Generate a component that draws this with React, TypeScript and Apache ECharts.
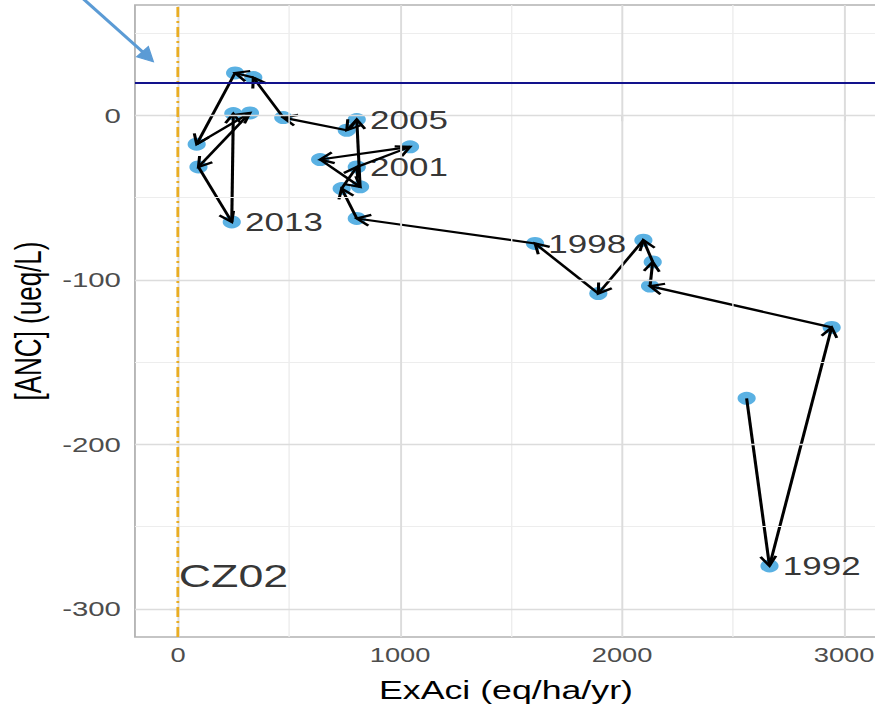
import React, { useEffect, useRef } from "react";
import * as echarts from "echarts";

// ---- data ----
const years = [
  1991, 1992, 1993, 1994, 1995, 1996, 1997, 1998, 1999, 2000, 2001, 2002,
  2003, 2004, 2005, 2006, 2007, 2008, 2009, 2010, 2011, 2012, 2013, 2014,
];
const exAci = [
  2561, 2664, 2944, 2126, 2138, 2096, 1893, 1608, 805, 737, 805, 1045, 640,
  820, 805, 760, 474, 339, 257, 84, 324, 92, 242, 249,
];
const anc = [
  -172, -273.8, -128.9, -103.8, -89.1, -75.9, -108.3, -77.9, -62.7, -44.5,
  -31.4, -19.2, -26.9, -43.5, -2.6, -9.1, -1.4, 22.9, 25.7, -17.6, 1.4, -31.4,
  -64.8, 1.0,
];
const labelledYears = [1992, 1998, 2001, 2005, 2013];
const xTicks = [0, 1000, 2000, 3000];
const xMinor = [500, 1500, 2500];
const yTicks = [-300, -200, -100, 0];
const yMinor = [-250, -150, -50, 50];
const ancThreshold = 20;
const exAciReference = 0;
const siteName = "CZ02";
const siteLabelX = 0;
const siteLabelY = -280;
const xTitle = "ExAci (eq/ha/yr)";
const yTitle = "[ANC] (ueq/L)";

const FONT = "'Liberation Sans', Arial, Helvetica, sans-serif";
const STRETCH = 1.4;
const BASE_W = 625;
const BASE_H = 708;

export default function App() {
  const ref = useRef<HTMLDivElement>(null);

  useEffect(() => {
    if (!ref.current) return;
    const chart = echarts.init(ref.current, undefined, { renderer: "svg" });

    const points = exAci.map((x, i) => [x, anc[i], years[i]]);
    const segments: number[][] = [];
    for (let i = 0; i < exAci.length - 1; i++) {
      segments.push([exAci[i], anc[i], exAci[i + 1], anc[i + 1]]);
    }
    const labelled = points.filter((p) => labelledYears.includes(p[2]));

    const major = { color: "#DCDCDC", width: 1.4, type: "solid" };
    const minor = { color: "#EDEDED", width: 1, type: "solid" };

    const option: any = {
      animation: false,
      backgroundColor: "#ffffff",
      grid: {
        left: 96.4,
        top: 5,
        width: 530,
        bottom: 71,
        show: true,
        backgroundColor: "#ffffff",
        borderColor: "#B3B3B3",
        borderWidth: 1.3,
        containLabel: false,
        outerBoundsMode: "none",
      },
      xAxis: {
        type: "value",
        min: -194,
        max: 3148,
        axisLine: { show: false },
        axisTick: {
          show: true,
          length: 6,
          customValues: xTicks,
          lineStyle: { color: "#B3B3B3", width: 1.2 },
        },
        axisLabel: {
          customValues: xTicks,
          formatter: (v: number) => String(v),
          margin: 8,
          fontSize: 19.5,
          color: "#4D4D4D",
          fontFamily: FONT,
        },
        splitLine: { show: false },
        name: xTitle,
        nameLocation: "middle",
        nameGap: 40,
        nameTextStyle: { fontSize: 25.5, color: "#000", fontFamily: FONT },
      },
      yAxis: {
        type: "value",
        min: -317,
        max: 67,
        axisLine: { show: false },
        axisTick: {
          show: true,
          length: 6,
          customValues: yTicks,
          lineStyle: { color: "#B3B3B3", width: 1.2 },
        },
        axisLabel: {
          customValues: yTicks,
          formatter: (v: number) => String(v),
          margin: 10,
          fontSize: 21,
          color: "#4D4D4D",
          fontFamily: FONT,
        },
        splitLine: { show: false },
        name: yTitle,
        nameLocation: "middle",
        nameGap: 59,
        nameTextStyle: { fontSize: 26, color: "#000", fontFamily: FONT },
      },
      graphic: [
        {
          type: "group",
          z: 100,
          children: [
            {
              type: "line",
              shape: { x1: 58, y1: -3, x2: 102, y2: 52 },
              style: { stroke: "#5B9BD5", lineWidth: 2.6 },
            },
            {
              type: "polygon",
              shape: {
                points: [
                  [109.5, 61.7],
                  [97.6, 56.7],
                  [105.9, 46.7],
                ],
              },
              style: { fill: "#5B9BD5", stroke: "#5B9BD5", lineWidth: 1 },
            },
          ],
        },
      ],
      series: [
        {
          type: "scatter",
          name: "gridlines",
          data: [],
          z: 1,
          silent: true,
          markLine: {
            silent: true,
            symbol: ["none", "none"],
            label: { show: false },
            emphasis: { disabled: true },
            data: [
              ...xMinor.map((v) => ({ xAxis: v, lineStyle: minor })),
              ...yMinor.map((v) => ({ yAxis: v, lineStyle: minor })),
              ...xTicks.map((v) => ({ xAxis: v, lineStyle: major })),
              ...yTicks.map((v) => ({ yAxis: v, lineStyle: major })),
              {
                xAxis: exAciReference,
                lineStyle: { color: "#E9AD24", width: 2, type: [10, 4, 2, 4] },
              },
              {
                yAxis: ancThreshold,
                lineStyle: { color: "#12128C", width: 2, type: "solid" },
              },
            ],
          },
        },
        {
          type: "scatter",
          name: "points",
          data: points,
          z: 3,
          symbolSize: 13,
          itemStyle: { color: "#5AB1E3", opacity: 1 },
          silent: true,
        },
        {
          type: "custom",
          name: "arrows",
          coordinateSystem: "cartesian2d",
          data: segments,
          z: 4,
          silent: true,
          encode: { x: [0, 2], y: [1, 3] },
          renderItem: (params: any, api: any) => {
            const p1 = api.coord([api.value(0), api.value(1)]);
            const p2 = api.coord([api.value(2), api.value(3)]);
            const ang = Math.atan2(p2[1] - p1[1], p2[0] - p1[0]);
            const L = 11;
            const a = Math.PI / 6;
            const h1 = [
              p2[0] - L * Math.cos(ang - a),
              p2[1] - L * Math.sin(ang - a),
            ];
            const h2 = [
              p2[0] - L * Math.cos(ang + a),
              p2[1] - L * Math.sin(ang + a),
            ];
            return {
              type: "group",
              children: [
                {
                  type: "line",
                  shape: { x1: p1[0], y1: p1[1], x2: p2[0], y2: p2[1] },
                  style: { stroke: "#000", lineWidth: 2.2 },
                },
                {
                  type: "polyline",
                  shape: { points: [h1, p2, h2] },
                  style: { stroke: "#000", fill: null, lineWidth: 2.2 },
                },
              ],
            };
          },
        },
        {
          type: "scatter",
          name: "yearLabels",
          data: labelled,
          z: 5,
          symbolSize: 13,
          itemStyle: { color: "rgba(0,0,0,0)" },
          silent: true,
          label: {
            show: true,
            position: "right",
            distance: 3,
            formatter: (p: any) => String(p.value[2]),
            fontSize: 25,
            color: "#000",
            fontFamily: FONT,
          },
        },
        {
          type: "scatter",
          name: "site",
          data: [[siteLabelX, siteLabelY, siteName]],
          z: 5,
          symbolSize: 1,
          itemStyle: { color: "rgba(0,0,0,0)" },
          silent: true,
          label: {
            show: true,
            position: "right",
            distance: 0,
            formatter: (p: any) => String(p.value[2]),
            fontSize: 32,
            color: "#000",
            fontFamily: FONT,
          },
        },
      ],
    };

    chart.setOption(option);
    return () => {
      chart.dispose();
    };
  }, []);

  return (
    <div
      style={{
        position: "fixed",
        left: 0,
        top: 0,
        width: 875,
        height: 708,
        overflow: "hidden",
        background: "#fff",
      }}
    >
      <div
        ref={ref}
        style={{
          width: BASE_W,
          height: BASE_H,
          transform: `scaleX(${STRETCH})`,
          transformOrigin: "0 0",
        }}
      />
    </div>
  );
}
